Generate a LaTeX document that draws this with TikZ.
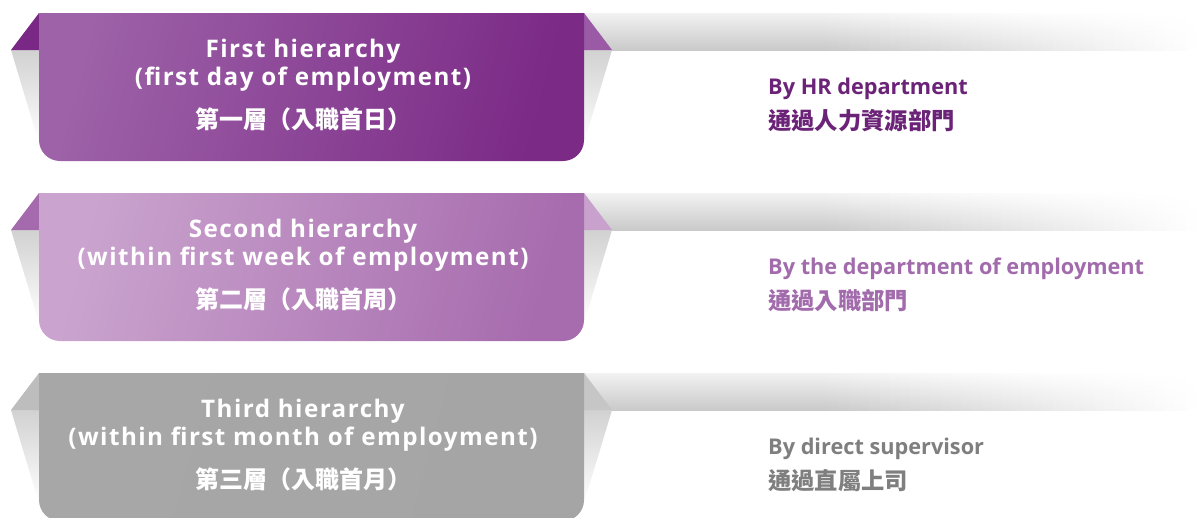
\documentclass[tikz,border=0pt]{standalone}
\usepackage{fontspec}
\setmainfont{Open Sans}
\newfontfamily\headfont{Open Sans}[LetterSpace=6]
\newfontfamily\cjk{Noto Sans CJK TC}
\definecolor{pA1}{HTML}{9D62A8}\definecolor{pA2}{HTML}{7B2A86}
\definecolor{pAL}{HTML}{7A2885}\definecolor{pAR}{HTML}{9A5AA5}
\definecolor{pB1}{HTML}{CAA4CE}\definecolor{pB2}{HTML}{A76CAE}
\definecolor{pBL}{HTML}{A56AAD}\definecolor{pBR}{HTML}{C8A1CC}
\definecolor{gC1}{HTML}{A7A7A7}\definecolor{gC2}{HTML}{A5A5A5}
\definecolor{gCL}{HTML}{BDBDBD}\definecolor{gCR}{HTML}{C6C6C6}
\definecolor{tA}{HTML}{6B2377}\definecolor{tB}{HTML}{A16BAC}\definecolor{tC}{HTML}{7F7F7F}
\newcommand\tierbg[4]{%
  \foreach \k in {0,...,59} {
    \pgfmathsetmacro\xa{584+\k*10.2}
    \pgfmathsetmacro\xc{\xa+11}
    \pgfmathsetmacro\pp{\xa<820 ? 1 : max(0,(1196-\xa)/376)}
    \pgfmathsetmacro\pb{21*\pp}
    \pgfmathsetmacro\pm{14*\pp}
    \pgfmathsetmacro\pt{5*\pp*\pp}
    \shade[top color=black!\pt!white, middle color=black!\pm!white, bottom color=black!\pb!white] (\xa,0) rectangle (\xc,37);
  }
  \shade[top color=black!18!white, bottom color=white] (584,37) -- (612,37) -- (584,130) -- cycle;
  \shade[top color=black!18!white, bottom color=white] (11,37) -- (39,37) -- (39,130) -- cycle;
  \fill[#3] (39,0) -- (11,37) -- (39,37) -- cycle;
  \fill[#4] (584,0) -- (612,37) -- (584,37) -- cycle;
  \shade[left color=#1, right color=#2, shading angle=75] (39,0) -- (584,0) -- (584,127)
    .. controls (584,138.6) and (574.6,148) .. (563,148) -- (60,148)
    .. controls (48.4,148) and (39,138.6) .. (39,127) -- cycle;
}
\tikzset{
  head/.style={anchor=base, inner sep=0pt, text=white, font=\headfont\bfseries\fontsize{24.2}{28}\selectfont},
  headcjk/.style={anchor=base, inner sep=0pt, text=white, font=\cjk\bfseries\fontsize{24}{28}\selectfont},
  side/.style={anchor=base west, inner sep=0pt, font=\bfseries\fontsize{21.7}{26}\selectfont},
  sidecjk/.style={anchor=base west, inner sep=0pt, font=\cjk\bfseries\fontsize{23.3}{26}\selectfont},
}
\begin{document}
\begin{tikzpicture}[x=1pt,y=-1pt]
\useasboundingbox (0,0) rectangle (1196,517);
\begin{scope}[yshift=-13pt]
  \tierbg{pA1}{pA2}{pAL}{pAR}
  \node[head] (a1) at (303,44) {First hierarchy};
  \node[head] (a2) at (303,72) {(first day of employment)};
  \node[headcjk] (a3) at (303,115) {第一層（入職首日）};
  \node[side, text=tA] (a4) at (768,81) {By HR department};
  \node[sidecjk, text=tA] (a5) at (768,116) {通過人力資源部門};
\end{scope}
\begin{scope}[yshift=-193pt]
  \tierbg{pB1}{pB2}{pBL}{pBR}
  \node[head] (b1) at (303,44) {Second hierarchy};
  \node[head] (b2) at (303,72) {(within first week of employment)};
  \node[headcjk] (b3) at (303,115) {第二層（入職首周）};
  \node[side, text=tB] (b4) at (768,81) {By the department of employment};
  \node[sidecjk, text=tB] (b5) at (768,116) {通過入職部門};
\end{scope}
\begin{scope}[yshift=-373pt]
  \tierbg{gC1}{gC2}{gCL}{gCR}
  \node[head] (c1) at (303,44) {Third hierarchy};
  \node[head] (c2) at (303,72) {(within first month of employment)};
  \node[headcjk] (c3) at (303,115) {第三層（入職首月）};
  \node[side, text=tC] (c4) at (768,81) {By direct supervisor};
  \node[sidecjk, text=tC] (c5) at (768,116) {通過直屬上司};
\end{scope}
\end{tikzpicture}
\end{document}
